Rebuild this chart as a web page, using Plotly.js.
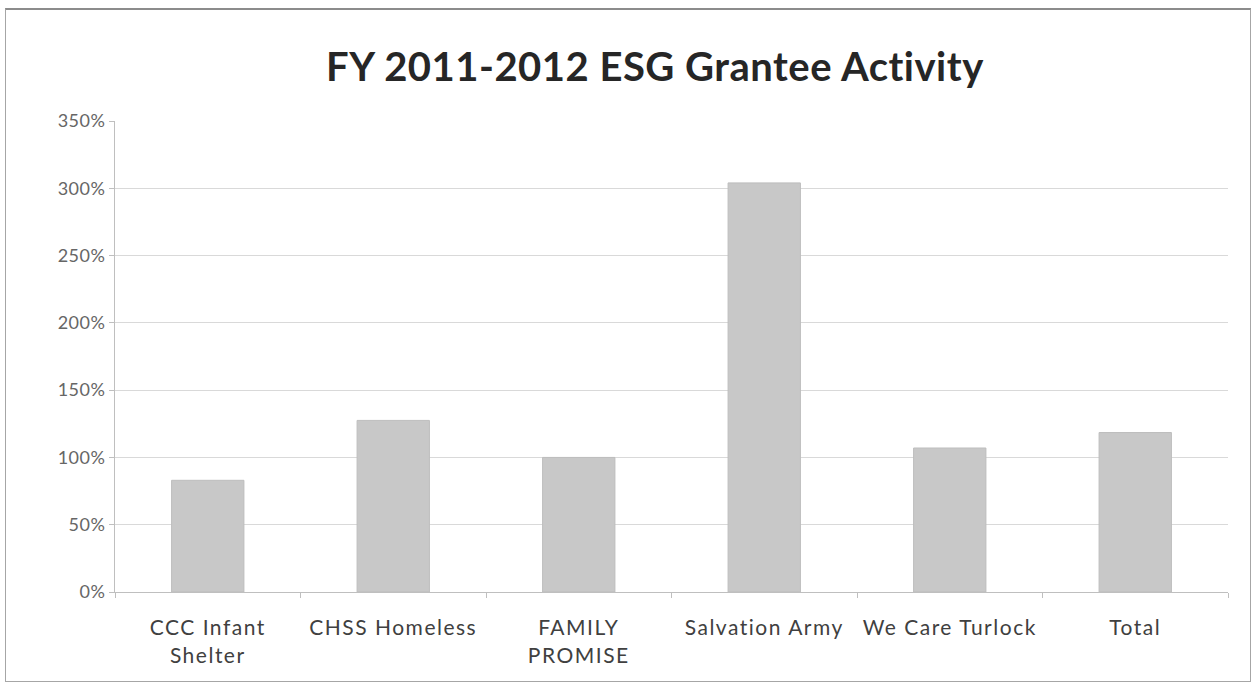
<!DOCTYPE html>
<html>
<head>
<meta charset="utf-8">
<script src="https://cdn.plot.ly/plotly-3.0.1.min.js"></script>
<style>
  html, body { margin: 0; padding: 0; background: #fff; }
  #wrap { position: relative; width: 1257px; height: 686px; }
  #chart { width: 1257px; height: 686px; }
  #frame { position: absolute; left: 5px; top: 8px; width: 1244px; height: 671px;
           border: 1px solid #a6a6a6; border-top: 2px solid #8c8c8c; pointer-events: none; }
  #chart .gtitle { letter-spacing: 0.5px; }
  #chart .xtick text { letter-spacing: 1.5px; }
  #chart .ytick text { letter-spacing: 0.5px; }
</style>
</head>
<body>
<div id="wrap">
  <div id="chart"></div>
  <div id="frame"></div>
</div>
<script>
const categories = ["CCC Infant<br>Shelter", "CHSS Homeless", "FAMILY<br>PROMISE", "Salvation Army", "We Care Turlock", "Total"];
const values = [0.83, 1.275, 1.00, 3.04, 1.07, 1.185];
const yTickVals = [0, 0.5, 1, 1.5, 2, 2.5, 3, 3.5];
const yTickText = ["0%", "50%", "100%", "150%", "200%", "250%", "300%", "350%"];

const font = "Lato, 'Open Sans', 'Liberation Sans', sans-serif";

const trace = {
  type: "bar",
  x: categories,
  y: values,
  marker: { color: "#c8c8c8", line: { color: "#bdbdbd", width: 1 } },
  hoverinfo: "x+y"
};

const layout = {
  width: 1257,
  height: 686,
  margin: { l: 115, r: 29, t: 121, b: 94 },
  paper_bgcolor: "#ffffff",
  plot_bgcolor: "#ffffff",
  bargap: 0.61,
  showlegend: false,
  title: {
    text: "<b>FY 2011-2012 ESG Grantee Activity</b>",
    font: { family: font, size: 40, color: "#262626" },
    x: 0.521, xref: "container", xanchor: "center",
    y: 0.902, yref: "container", yanchor: "middle"
  },
  xaxis: {
    type: "category",
    showline: true, linecolor: "#bfbfbf", linewidth: 1,
    ticks: "outside", tickson: "boundaries", ticklen: 5, tickcolor: "#bfbfbf",
    ticklabelstandoff: 17,
    tickfont: { family: font, size: 21, color: "#404040" },
    showgrid: false
  },
  yaxis: {
    range: [0, 3.5],
    tickvals: yTickVals,
    ticktext: yTickText,
    showline: true, linecolor: "#bfbfbf", linewidth: 1,
    ticks: "outside", ticklen: 5, tickcolor: "#bfbfbf",
    gridcolor: "#d9d9d9", gridwidth: 1,
    zeroline: false,
    tickfont: { family: font, size: 18, color: "#666666" }
  }
};

Plotly.newPlot("chart", [trace], layout, { displayModeBar: false, staticPlot: true });
</script>
</body>
</html>
